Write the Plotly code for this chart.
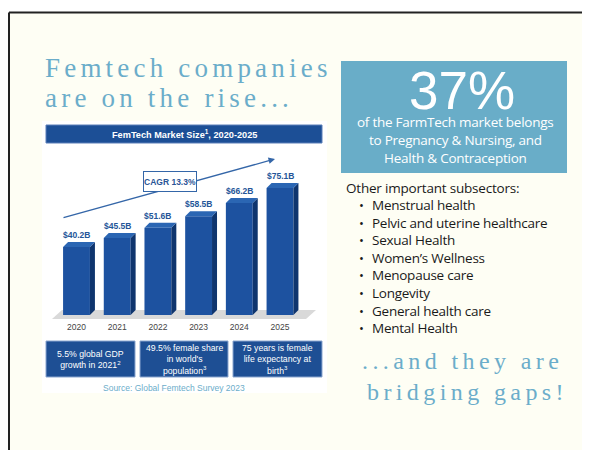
import plotly.graph_objects as go

# The page places the figure 8px from the top-left corner (body margin),
# so the figure is 582x442 and all layout positions are shifted by that offset.
PAGE_OFF = 8
W, H = 590 - PAGE_OFF, 450 - PAGE_OFF

# ---------------- data ----------------
years = [2020, 2021, 2022, 2023, 2024, 2025]
year_labels = ["2020", "2021", "2022", "2023", "2024", "2025"]
market_size = [40.2, 45.5, 51.6, 58.5, 66.2, 75.1]
value_labels = ["$40.2B", "$45.5B", "$51.6B", "$58.5B", "$66.2B", "$75.1B"]
chart_title = "FemTech Market Size<sup>1</sup>, 2020-2025"
cagr_label = "CAGR 13.3%"
fact_boxes = [
    "5.5% global GDP<br>growth in 2021<sup>2</sup>",
    "49.5% female share<br>in world's<br>population<sup>3</sup>",
    "75 years is female<br>life expectancy at<br>birth<sup>3</sup>",
]
source_text = "Source: Global Femtech Survey 2023"
headline = ["Femtech companies", "are on the rise..."]
big_stat = "37%"
stat_lines = ["of the FarmTech market belongs", "to Pregnancy & Nursing, and", "Health & Contraception"]
list_heading = "Other important subsectors:"
subsectors = ["Menstrual health", "Pelvic and uterine healthcare", "Sexual Health",
              "Women\u2019s Wellness", "Menopause care", "Longevity",
              "General health care", "Mental Health"]
closing = ["...and they are", "bridging gaps!"]

# ---------------- helpers (page pixels -> paper fraction) ----------------
def px(x):
    return (x - PAGE_OFF) / W

def py(y):
    return 1 - (y - PAGE_OFF) / H

LIGHT_BLUE = "#6badca"
BAR_FRONT = "#1d52a0"
BAR_SIDE = "#0f356e"
BAR_TOP = "#2b66b3"
NAVY = "#1c4f96"

BAR_W = 0.66
PX_PER_UNIT_X = 40.7
PX_PER_B = 1.69
DEPTH = 5  # pixel depth of 3D extrusion
depth_y = DEPTH / PX_PER_B

fig = go.Figure()
fig.add_trace(go.Bar(x=years, y=market_size, width=BAR_W,
                     marker=dict(color=BAR_FRONT, line=dict(width=0)),
                     hoverinfo="skip", showlegend=False))

shapes = []
# page background
shapes.append(dict(type="rect", xref="paper", yref="paper", x0=px(9), x1=1, y0=0, y1=py(13),
                   fillcolor="#fefef4", line=dict(width=0), layer="below"))
shapes.append(dict(type="line", xref="paper", yref="paper", x0=px(9), x1=1, y0=py(12.5), y1=py(12.5),
                   line=dict(color="#222222", width=2), layer="below"))
shapes.append(dict(type="line", xref="paper", yref="paper", x0=px(9), x1=px(9), y0=0, y1=py(12.5),
                   line=dict(color="#222222", width=2), layer="below"))
# chart image background
shapes.append(dict(type="rect", xref="paper", yref="paper", x0=px(42), x1=px(327), y0=py(393), y1=py(121),
                   fillcolor="white", line=dict(width=0), layer="below"))
# chart title bar
shapes.append(dict(type="rect", xref="paper", yref="paper", x0=px(46), x1=px(322), y0=py(143), y1=py(125),
                   fillcolor=NAVY, line=dict(color="#5a7fb8", width=1), layer="below"))
# floor
shapes.append(dict(type="path", xref="paper", yref="paper",
                   path=f"M{px(52)},{py(319)} L{px(306)},{py(319)} L{px(316)},{py(310)} L{px(62)},{py(310)} Z",
                   fillcolor="#d9d9d9", line=dict(width=0), layer="below"))
# 3D faces of the bars, derived from the data values
wpx = BAR_W * PX_PER_UNIT_X
for yr, v in zip(years, market_size):
    shapes.append(dict(type="path", xref="x", yref="y", xsizemode="pixel", xanchor=yr + BAR_W / 2,
                       path=f"M0,0 L{DEPTH},{depth_y} L{DEPTH},{v + depth_y} L0,{v} Z",
                       fillcolor=BAR_SIDE, line=dict(width=0)))
    shapes.append(dict(type="path", xref="x", yref="y", xsizemode="pixel", xanchor=yr - BAR_W / 2,
                       path=f"M0,{v} L{DEPTH},{v + depth_y} L{wpx + DEPTH},{v + depth_y} L{wpx},{v} Z",
                       fillcolor=BAR_TOP, line=dict(width=0)))
# fact boxes
box_x = [(46, 135), (140, 228), (233, 322)]
for (x0, x1) in box_x:
    shapes.append(dict(type="rect", xref="paper", yref="paper", x0=px(x0), x1=px(x1), y0=py(377), y1=py(341),
                       fillcolor="#1e4f94", line=dict(color="#8aa6cf", width=1), layer="below"))
# stat box
shapes.append(dict(type="rect", xref="paper", yref="paper", x0=px(341), x1=px(567), y0=py(173), y1=py(61),
                   fillcolor="#69adc8", line=dict(width=0), layer="below"))

ann = []
SERIF = "Liberation Serif"
SANS = "Open Sans"


def sp(text, ls):
    return f'<span style="letter-spacing:{ls}px">{text}</span>'


def txt(text, x, y, size, color, family, xa="center", ya="middle", **kw):
    d = dict(text=text, x=px(x), y=py(y), xref="paper", yref="paper", xanchor=xa, yanchor=ya,
             showarrow=False, font=dict(family=family, size=size, color=color))
    d.update(kw)
    return d


# headline
for i, line in enumerate(headline):
    ann.append(txt(sp(line, 4.2), 43, 68 + 30 * i, 27, LIGHT_BLUE, SERIF, xa="left"))
# chart title
ann.append(txt(f"<b>{chart_title}</b>", 184, 134, 9.2, "white", "Liberation Sans"))
# value labels
for yr, v, lab in zip(years, market_size, value_labels):
    ann.append(dict(text=f"<b>{lab}</b>", x=yr, y=v, xref="x", yref="y", yshift=12,
                    showarrow=False, xanchor="center", yanchor="middle",
                    font=dict(family="Liberation Sans", size=8.5, color="#245598")))
# CAGR arrow and box
ann.append(dict(text="", x=px(275), y=py(159), xref="paper", yref="paper", ax=-213, ay=59,
                axref="pixel", ayref="pixel", showarrow=True, arrowhead=2, arrowsize=1,
                arrowwidth=1.3, arrowcolor="#3466a8"))
ann.append(txt(f"<b>{cagr_label}</b>", 170, 182, 8.5, "#2a5596", "Liberation Sans",
               width=52, height=19, bgcolor="white", bordercolor="#3466a8", borderwidth=1, borderpad=0))
# fact box text
for (x0, x1), t in zip(box_x, fact_boxes):
    ann.append(txt(t, (x0 + x1) / 2, 359, 8.7, "white", "Liberation Sans"))
# source
ann.append(txt(source_text, 174, 388, 8.5, LIGHT_BLUE, "Liberation Sans"))
# big stat
ann.append(txt(big_stat, 462, 90, 53, "white", "Liberation Sans"))
for i, line in enumerate(stat_lines):
    ann.append(txt(sp(line, -0.25), 455, 122 + 18 * i, 13.5, "white", SANS))
# list heading and bullets
ann.append(txt(sp(list_heading, -0.2), 344, 188, 13.5, "#1a1a1a", SANS, xa="left"))
for i, s in enumerate(subsectors):
    yy = 205 + 17.6 * i
    ann.append(txt("\u2022", 361, yy, 13, "#1a1a1a", SANS))
    ann.append(txt(sp(s, -0.25), 370, yy, 13.5, "#1a1a1a", SANS, xa="left"))
# closing
for i, (line, cx) in enumerate(zip(closing, [462, 467])):
    ann.append(txt(sp(line, 4.4), cx, 361 + 31 * i, 24, LIGHT_BLUE, SERIF))

x_left = 2020 - (76.5 - 48) / PX_PER_UNIT_X
x_right = 2025 + (322 - 280) / PX_PER_UNIT_X
fig.update_layout(
    width=W, height=H, margin=dict(l=0, r=0, t=0, b=0),
    paper_bgcolor="white", plot_bgcolor="rgba(0,0,0,0)",
    showlegend=False, shapes=shapes, annotations=ann,
    xaxis=dict(domain=[px(48), px(322)], range=[x_left, x_right], tickvals=years, ticktext=year_labels,
               showgrid=False, zeroline=False, showline=False, ticks="", ticklabelstandoff=5,
               tickfont=dict(family="Liberation Sans", size=8.5, color="#444444"), fixedrange=True),
    yaxis=dict(domain=[py(315), py(145)], range=[0, 170 / PX_PER_B], visible=False, fixedrange=True),
)

fig.write_html("out.html")
